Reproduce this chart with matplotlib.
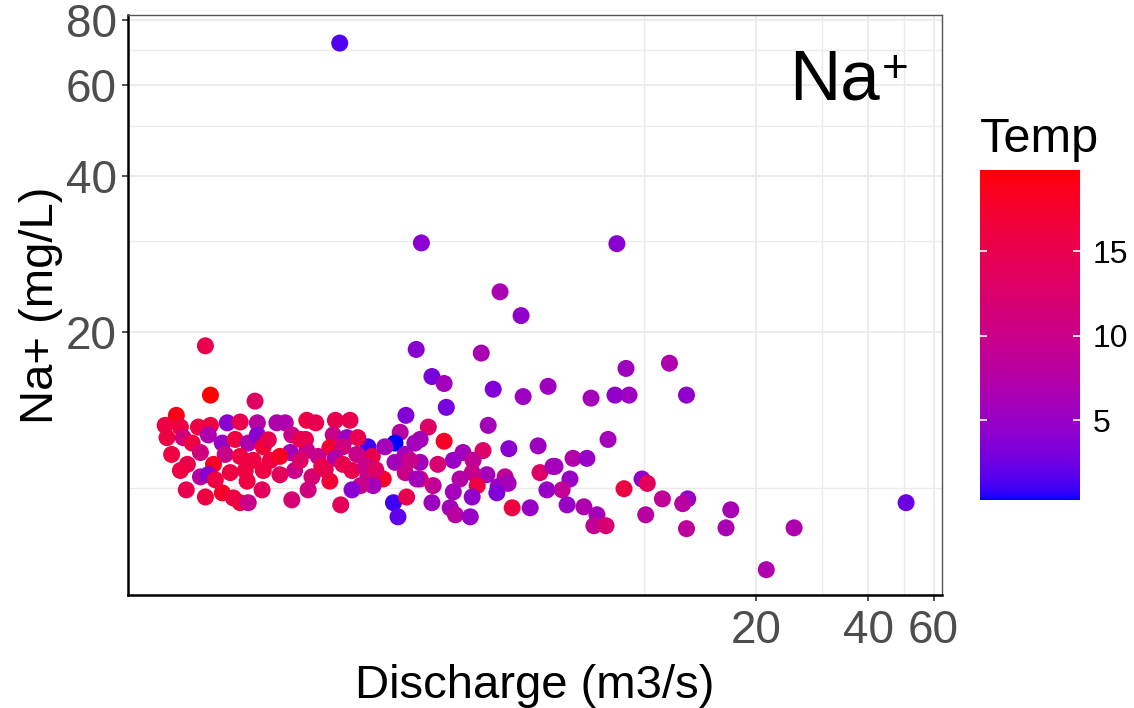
import numpy as np
import matplotlib
matplotlib.use("Agg")
import matplotlib.pyplot as plt
from matplotlib.colors import ListedColormap, Normalize

plt.rcParams["font.family"] = ["Liberation Sans", "DejaVu Sans"]

# discharge (m3/s), Na+ (mg/L), water temperature
discharge = [1.52, 2.52, 4.10, 4.67, 8.45, 0.662, 2.44, 3.65, 2.69, 2.90,
             3.93, 4.73, 5.52, 0.683, 0.90, 8.94, 11.7, 7.20, 8.35, 9.11,
             13.0, 17.1, 16.6, 25.3, 21.3, 50.6, 8.0, 6.44, 7.02, 5.76,
             6.32, 6.02, 9.87, 10.2, 8.83, 11.2, 13.1, 12.7, 6.21, 6.89,
             7.47, 7.33, 7.90, 10.1, 13.0, 2.94, 3.81, 2.63, 2.90, 4.33,
             5.19, 2.50, 3.26, 3.69, 3.07, 3.47, 2.79, 2.50, 3.78, 4.23,
             5.25, 5.69, 3.45, 3.20, 3.56, 2.71, 2.50, 4.05, 4.31, 5.48,
             3.07, 3.45, 4.02, 2.69, 3.01, 3.11, 3.41, 4.42, 4.94, 2.29,
             2.21, 2.14, 1.81, 1.24, 1.31, 1.48, 1.62, 1.085, 1.13, 1.23,
             1.46, 1.59, 1.70, 1.12, 1.24, 1.43, 1.55, 1.86, 1.69, 1.33,
             1.48, 2.01, 2.42, 2.28, 1.15, 1.28, 1.36, 1.55, 1.64, 1.78,
             1.81, 2.14, 2.35, 2.28, 2.45, 1.43, 1.99, 1.87, 1.73, 1.64,
             1.25, 2.12, 2.30, 2.18, 0.553, 0.516, 0.567, 0.634, 0.683, 0.758,
             0.821, 0.913, 1.03, 0.522, 0.577, 0.61, 0.674, 0.735, 0.796, 0.863,
             0.913, 0.947, 0.642, 0.748, 0.821, 0.89, 0.99, 1.05, 0.592, 0.567,
             0.696, 0.772, 0.847, 0.947, 0.642, 0.674, 0.857, 0.662, 0.735, 0.787,
             0.821, 0.863, 0.977, 1.05, 1.19, 1.39, 0.588, 0.704, 0.94, 1.13,
             1.53, 1.90, 0.537, 1.19]
na = [72.2, 29.7, 23.9, 21.5, 29.6, 18.8, 18.5, 18.2, 16.4, 15.9,
      15.5, 15.0, 15.7, 15.1, 14.7, 17.0, 17.4, 14.9, 15.1, 15.1,
      15.1, 9.07, 8.37, 8.37, 6.95, 9.36, 12.4, 11.4, 11.4, 11.0,
      10.4, 9.91, 10.4, 10.2, 9.96, 9.52, 9.52, 9.32, 9.27, 9.19,
      8.87, 8.45, 8.45, 8.87, 8.34, 14.3, 13.2, 13.1, 12.3, 11.9,
      12.05, 12.4, 11.7, 11.8, 11.3, 11.3, 11.1, 11.2, 10.6, 10.5,
      10.7, 11.0, 10.7, 10.4, 10.1, 10.1, 10.4, 10.05, 10.2, 9.91,
      9.82, 9.60, 9.78, 9.36, 9.15, 8.87, 8.79, 9.15, 9.15, 13.8,
      12.8, 12.2, 12.0, 13.5, 13.35, 13.5, 13.5, 13.35, 12.65, 12.4,
      12.65, 12.5, 12.5, 11.7, 11.8, 11.95, 12.0, 11.5, 11.6, 11.5,
      11.4, 12.0, 12.2, 11.6, 10.8, 10.5, 11.0, 11.1, 10.8, 11.0,
      10.5, 11.2, 11.3, 10.7, 10.4, 10.3, 10.4, 10.1, 10.1, 9.91,
      9.91, 9.36, 9.60, 8.79, 13.8, 13.2, 13.1, 13.1, 13.2, 13.35,
      13.4, 13.35, 13.35, 12.5, 12.5, 12.2, 12.65, 12.2, 12.4, 12.2,
      12.65, 12.0, 11.7, 11.6, 11.5, 11.3, 11.3, 11.5, 11.1, 10.8,
      11.1, 10.7, 10.8, 10.8, 10.5, 10.6, 10.3, 9.60, 9.78, 9.56,
      9.36, 9.36, 12.38, 10.6, 11.3, 10.84, 9.91, 10.36, 9.91, 9.48,
      9.27, 10.84, 11.6, 12.4]
temp = [1.5, 4, 6.5, 4.5, 4, 15, 4, 6.5, 3, 6,
        3.5, 5.5, 5.5, 19.8, 13.5, 5.5, 7, 6, 4.5, 5.5,
        4.5, 6.5, 6.5, 7, 7, 2.5, 6, 7.5, 5, 5.5,
        5, 9, 4.5, 14, 16, 9, 5, 8, 5, 7,
        6, 9, 12, 8, 8.5, 3, 6, 13, 18, 4,
        5.5, 6, 6, 13, 5, 9, 12, 6, 6, 9,
        13, 6, 9.5, 7.5, 16, 9, 13, 5, 6, 5,
        6, 4.5, 3.5, 5.5, 6, 8, 5, 16, 5, 3.5,
        8, 0.3, 1, 16, 15, 15, 15, 7, 10, 15,
        10, 5, 15, 6, 10, 17, 11, 15, 10, 10,
        7, 6, 6, 6, 10, 12, 15, 15, 15, 10,
        10, 6, 10, 10, 6, 17, 18, 6, 10, 4,
        11, 1, 15, 2, 19, 16, 16, 16, 16, 4,
        15, 8, 7, 16, 11, 16, 7, 5, 16, 7,
        4, 17, 11, 10, 16, 16, 16, 18, 15, 16,
        18, 16, 16, 16, 8, 4, 16, 16, 18, 16,
        16, 10, 15, 14, 13, 15, 15, 16, 14, 12,
        14, 13, 16, 15]

x_breaks = [20, 40, 60]
x_minor = [10, 30, 50]
y_breaks = [20, 40, 60, 80]
y_minor = [10, 30, 50, 70]
temp_breaks = [5, 10, 15]


def to_lab(rgb):
    rgb = np.asarray(rgb, float)
    lin = np.where(rgb <= 0.04045, rgb / 12.92, ((rgb + 0.055) / 1.055) ** 2.4)
    xyz = M @ lin / WP
    f = np.where(xyz > (6 / 29) ** 3, np.cbrt(xyz), xyz / (3 * (6 / 29) ** 2) + 4 / 29)
    return np.array([116 * f[1] - 16, 500 * (f[0] - f[1]), 200 * (f[1] - f[2])])


def from_lab(lab):
    fy = (lab[0] + 16) / 116
    f = np.array([fy + lab[1] / 500, fy, fy - lab[2] / 200])
    t = np.where(f > 6 / 29, f ** 3, 3 * (6 / 29) ** 2 * (f - 4 / 29))
    lin = np.clip(np.linalg.inv(M) @ (t * WP), 0, 1)
    return np.clip(np.where(lin <= 0.0031308, 12.92 * lin, 1.055 * lin ** (1 / 2.4) - 0.055), 0, 1)


M = np.array([[0.4124564, 0.3575761, 0.1804375],
              [0.2126729, 0.7151522, 0.0721750],
              [0.0193339, 0.1191920, 0.9503041]])
WP = np.array([0.95047, 1.0, 1.08883])

# blue -> red ramp through Lab, like ggplot's scale_colour_gradient
lo, hi = to_lab([0, 0, 1]), to_lab([1, 0, 0])
cmap = ListedColormap([from_lab(lo + (hi - lo) * s) for s in np.linspace(0, 1, 256)])
norm = Normalize(vmin=min(temp), vmax=max(temp))

fig = plt.figure(figsize=(11.34, 7.08), dpi=100)
ax = fig.add_axes([128 / 1134, 1 - 595 / 708, 814 / 1134, 580 / 708])

sc = ax.scatter(discharge, na, c=temp, cmap=cmap, norm=norm, s=150,
                linewidths=0, zorder=3)
ax.set_xscale("log")
ax.set_yscale("log")
ax.set_xlim(0.41, 63.2)
ax.set_ylim(6.21, 81.8)

ax.set_xticks(x_breaks)
ax.set_xticklabels([str(v) for v in x_breaks])
ax.set_xticks(x_minor, minor=True)
ax.set_yticks(y_breaks)
ax.set_yticklabels([str(v) for v in y_breaks])
ax.set_yticks(y_minor, minor=True)
ax.tick_params(which="minor", length=0, labelbottom=False, labelleft=False)
ax.tick_params(which="major", length=4, width=1.2, color="#333333",
               labelcolor="#4D4D4D", labelsize=33, pad=4)
ax.tick_params(axis="x", which="major", pad=6)

ax.grid(True, which="major", color="#EBEBEB", lw=1.3, zorder=0)
ax.grid(True, which="minor", color="#EBEBEB", lw=1.0, zorder=0)
ax.set_axisbelow(True)

for side in ["left", "bottom"]:
    ax.spines[side].set_color("black")
    ax.spines[side].set_linewidth(1.8)
for side in ["top", "right"]:
    ax.spines[side].set_color("#555555")
    ax.spines[side].set_linewidth(1.0)

ax.set_xlabel("Discharge (m3/s)", fontsize=34, labelpad=8)
ax.set_ylabel("Na+ (mg/L)", fontsize=34, labelpad=2)

fig.text(789 / 1134, 1 - 100 / 708, "Na", fontsize=51, ha="left", va="baseline")
fig.text(895 / 1134, 1 - 82 / 708, "+", fontsize=33, ha="center", va="baseline")

cax = fig.add_axes([980 / 1134, 1 - 500 / 708, 100 / 1134, 330 / 708])
cb = fig.colorbar(sc, cax=cax)
cb.outline.set_visible(False)
cb.set_ticks(temp_breaks)
cax.tick_params(direction="in", length=5, width=1.2, color="white",
                left=True, right=True, labelsize=23, pad=9)
fig.text(980 / 1134, 1 - 152 / 708, "Temp", fontsize=35, ha="left", va="baseline")

fig.savefig("out.png", dpi=100)
